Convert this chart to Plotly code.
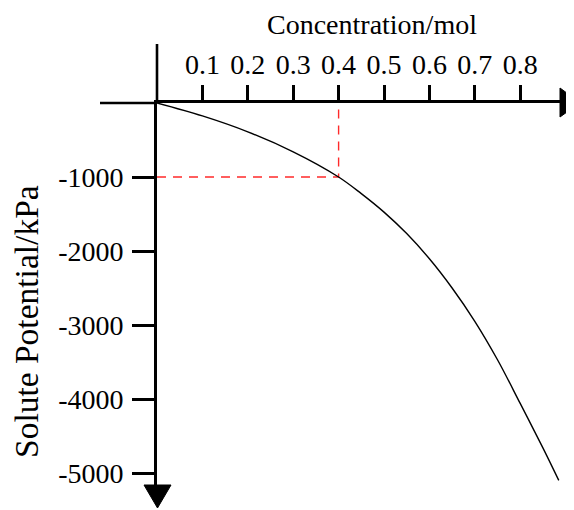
import plotly.graph_objects as go

# ---- data ----
conc = [0, 0.1, 0.2, 0.3, 0.4, 0.45, 0.5, 0.55, 0.6, 0.65, 0.7, 0.75, 0.8, 0.85, 0.885]
potential = [0, -175, -390, -660, -1000, -1225, -1475, -1765, -2105, -2500, -2950,
             -3470, -4060, -4660, -5100]

x_ticks = [0.1, 0.2, 0.3, 0.4, 0.5, 0.6, 0.7, 0.8]
x_tick_text = ["0.1", "0.2", "0.3", "0.4", "0.5", "0.6", "0.7", "0.8"]
y_ticks = [-1000, -2000, -3000, -4000, -5000]
y_tick_text = ["-1000", "-2000", "-3000", "-4000", "-5000"]

guide_x = [0, 0.4, 0.4]
guide_y = [-1000, -1000, 0]

x_title = "Concentration/mol"
y_title = "Solute Potential/kPa"

# ---- layout geometry (reference-page pixels) ----
OFF = 8                      # default page body margin
PAGE_W, PAGE_H = 574, 510
W, H = PAGE_W - OFF, PAGE_H - OFF
L, T, R, B = 157, 103, 562, 486
PX_PER_X = 454.0
PX_PER_Y = 0.074
x_range = [0, (R - L) / PX_PER_X]
y_range = [-(B - T) / PX_PER_Y, 0]

def px(xp):
    return (xp - L) / (R - L)

def py(yp):
    return (B - yp) / (B - T)

FONT = "Liberation Serif, Times New Roman, serif"

fig = go.Figure()
fig.add_trace(go.Scatter(x=guide_x, y=guide_y, mode="lines",
                         line=dict(color="#ff2a2a", width=1.4, dash="9px,7px"),
                         hoverinfo="skip", showlegend=False))
fig.add_trace(go.Scatter(x=conc, y=potential, mode="lines",
                         line=dict(color="black", width=1.4, shape="spline", smoothing=1.0),
                         showlegend=False))

AXW = 2.6
shapes = [
    dict(type="line", xref="paper", yref="paper", x0=px(100), x1=px(L), y0=1, y1=1,
         line=dict(color="black", width=AXW)),
    dict(type="line", xref="paper", yref="paper", x0=0, x1=0, y0=1, y1=py(44),
         line=dict(color="black", width=AXW)),
    dict(type="path", xref="paper", yref="paper",
         path=f"M {px(560)} {py(88)} L {px(580)} {py(102.7)} L {px(560)} {py(117)} Z",
         fillcolor="black", line=dict(color="black", width=1)),
    dict(type="path", xref="paper", yref="paper",
         path=f"M {px(144)} {py(485)} L {px(157.5)} {py(508)} L {px(171)} {py(485)} Z",
         fillcolor="black", line=dict(color="black", width=1)),
]

annotations = [
    dict(text=x_title, xref="paper", yref="paper", x=px(371.5), y=py(24.5),
         xanchor="center", yanchor="middle", showarrow=False,
         font=dict(family=FONT, size=28, color="black")),
    dict(text=y_title, xref="paper", yref="paper", x=px(26), y=py(322),
         xanchor="center", yanchor="middle", showarrow=False, textangle=-90,
         font=dict(family=FONT, size=33.5, color="black")),
]

fig.update_layout(
    width=W, height=H,
    margin=dict(l=L - OFF, r=PAGE_W - R, t=T - OFF, b=PAGE_H - B, pad=0),
    paper_bgcolor="white", plot_bgcolor="white",
    shapes=shapes, annotations=annotations,
    font=dict(family=FONT, color="black"),
    xaxis=dict(range=x_range, side="top", showline=True, linecolor="black", linewidth=AXW,
               showgrid=False, zeroline=False, ticks="outside", ticklen=15, tickwidth=AXW,
               tickcolor="black", tickvals=x_ticks, ticktext=x_tick_text,
               tickfont=dict(family=FONT, size=28, color="black"), fixedrange=True),
    yaxis=dict(range=y_range, showline=True, linecolor="black", linewidth=AXW,
               showgrid=False, zeroline=False, ticks="outside", ticklen=22, tickwidth=AXW,
               tickcolor="black", tickvals=y_ticks, ticktext=y_tick_text, ticklabelstandoff=3,
               tickfont=dict(family=FONT, size=28, color="black"), fixedrange=True),
)

fig.write_html("out.html")
